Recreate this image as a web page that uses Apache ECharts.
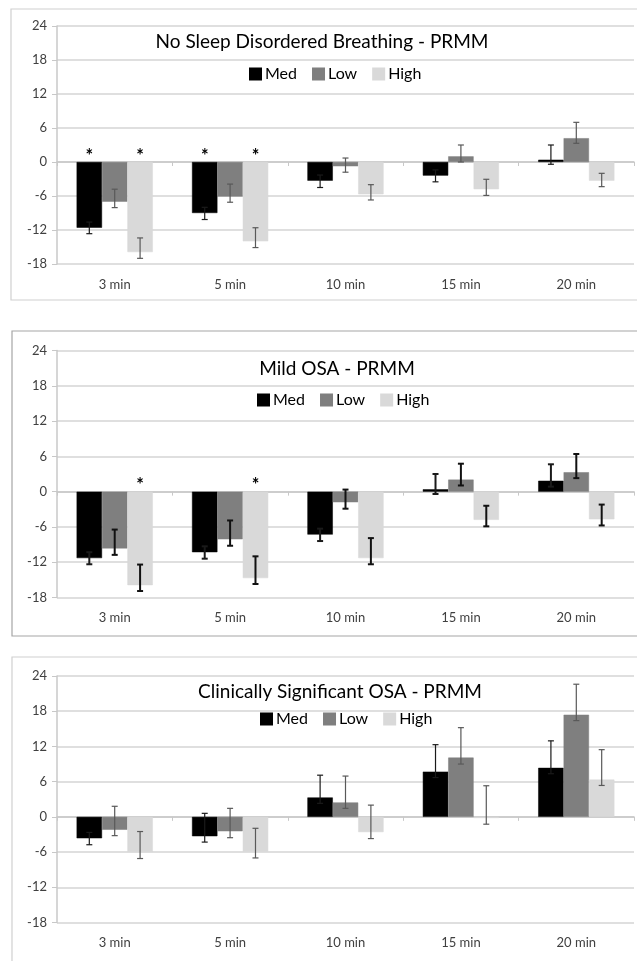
<!DOCTYPE html>
<html>
<head>
<meta charset="utf-8">
<script src="https://cdn.jsdelivr.net/npm/echarts@6/dist/echarts.min.js"></script>
<style>
  html, body { margin: 0; padding: 0; background: #fff; }
  #chart { width: 637px; height: 961px; }
</style>
</head>
<body>
<div id="chart"></div>
<script>
// 分类
const categories = ['3 min', '5 min', '10 min', '15 min', '20 min']
const seriesNames = ['Med', 'Low', 'High']
const yTicks = [-18, -12, -6, 0, 6, 12, 18, 24]

// No Sleep Disordered Breathing
const nsdbMed = [-11.6, -9.0, -3.3, -2.4, 0.4]
const nsdbLow = [-7.0, -6.1, -0.75, 1.0, 4.2]
const nsdbHigh = [-15.9, -14.0, -5.7, -4.8, -3.3]
const nsdbPlus = [[1.0, 1.0, 1.0, 1.0, 2.6], [2.2, 2.2, 1.45, 2.0, 2.8], [2.5, 2.4, 1.7, 1.75, 1.3]]
const nsdbMinus = [[1.05, 1.15, 1.2, 1.1, 0.8], [1.05, 1.0, 1.05, 1.0, 0.9], [1.1, 1.1, 1.0, 1.1, 1.05]]
const nsdbStars = [[1, 1, 0, 0, 0], [0, 0, 0, 0, 0], [1, 1, 0, 0, 0]]

// Mild OSA
const mildMed = [-11.3, -10.3, -7.3, 0.4, 1.85]
const mildLow = [-9.65, -8.1, -1.8, 2.05, 3.3]
const mildHigh = [-15.9, -14.7, -11.3, -4.8, -4.7]
const mildPlus = [[1.0, 1.0, 1.0, 2.6, 2.8], [3.2, 3.2, 2.15, 2.7, 3.1], [3.5, 3.7, 3.4, 2.4, 2.5]]
const mildMinus = [[1.05, 1.1, 1.1, 0.8, 1.0], [1.1, 1.1, 1.1, 1.0, 1.0], [1.0, 1.0, 1.05, 1.1, 1.05]]
const mildStars = [[0, 0, 0, 0, 0], [0, 0, 0, 0, 0], [1, 1, 0, 0, 0]]

// Clinically Significant OSA
const csMed = [-3.65, -3.3, 3.3, 7.7, 8.35]
const csLow = [-2.2, -2.45, 2.45, 10.1, 17.4]
const csHigh = [-6.0, -5.95, -2.6, -0.2, 6.35]
const csPlus = [[1.0, 3.9, 3.8, 4.6, 4.6], [4.0, 3.9, 4.5, 5.1, 5.2], [3.5, 4.0, 4.6, 5.5, 5.1]]
const csMinus = [[1.1, 1.0, 1.0, 1.0, 1.0], [1.0, 1.1, 1.0, 1.1, 1.0], [1.1, 1.05, 1.1, 1.05, 1.0]]
const csStars = [[0, 0, 0, 0, 0], [0, 0, 0, 0, 0], [0, 0, 0, 0, 0]]

const barColors = ['#000000', '#7f7f7f', '#d9d9d9']
const fontFamily = 'Lato, "Open Sans", sans-serif'
const gapRatio = 0.34

// 三个面板的布局
const panels = [
  {
    title: 'No Sleep Disordered Breathing - PRMM',
    values: [nsdbMed, nsdbLow, nsdbHigh], plus: nsdbPlus, minus: nsdbMinus, stars: nsdbStars,
    top: 26, height: 238, titleX: 322, titleY: 42, legendX: 249, legendY: 66,
    box: [11, 9, 300], boxColor: '#d0d0d0', errColor: '#595959', errWidth: 1.2
  },
  {
    title: 'Mild OSA - PRMM',
    values: [mildMed, mildLow, mildHigh], plus: mildPlus, minus: mildMinus, stars: mildStars,
    top: 350.5, height: 247, titleX: 337, titleY: 369, legendX: 257, legendY: 392,
    box: [12, 331, 636], boxColor: '#a6a6a6', errColor: '#111111', errWidth: 2
  },
  {
    title: 'Clinically Significant OSA - PRMM',
    values: [csMed, csLow, csHigh], plus: csPlus, minus: csMinus, stars: csStars,
    top: 676, height: 246.5, titleX: 340, titleY: 692, legendX: 260, legendY: 711,
    box: [12, 657, 990], boxColor: '#d0d0d0', errColor: '#595959', errWidth: 1.2
  }
]

// 误差线数据
const buildErrData = (p) => {
  const data = []
  p.values.forEach((arr, k) => {
    arr.forEach((v, i) => {
      data.push([i, k, v, p.plus[k][i], p.minus[k][i], p.stars[k][i]])
    })
  })
  return data
}

const grid = []
const xAxis = []
const yAxis = []
const legend = []
const series = []
const graphic = []

panels.forEach((p, idx) => {
  grid.push({ left: 57, right: 3, top: p.top, height: p.height })

  // 底部分类标签
  xAxis.push({
    type: 'category', gridIndex: idx, data: categories, position: 'bottom',
    axisLine: { show: false, onZero: false },
    axisTick: { show: false },
    axisLabel: { color: '#404040', fontSize: 13, fontFamily, margin: 14 },
    splitLine: { show: false }
  })
  // 零线上的刻度
  xAxis.push({
    type: 'category', gridIndex: idx, data: categories, position: 'top',
    axisLine: { show: true, onZero: true, lineStyle: { color: '#c8c8c8', width: 1.5 } },
    axisTick: { show: true, inside: true, length: 4, lineStyle: { color: '#c8c8c8' } },
    axisLabel: { show: false },
    splitLine: { show: false }
  })

  yAxis.push({
    type: 'value', gridIndex: idx, min: yTicks[0], max: yTicks[yTicks.length - 1], interval: 6,
    axisLine: { show: true, lineStyle: { color: '#c8c8c8', width: 1.5 } },
    axisTick: { show: true, length: 5, lineStyle: { color: '#c8c8c8' } },
    axisLabel: { color: '#404040', fontSize: 13, fontFamily, margin: 10 },
    splitLine: { show: true, lineStyle: { color: '#d4d4d4', width: 1.5 } }
  })

  legend.push({
    data: seriesNames, left: p.legendX, top: p.legendY, padding: 0,
    itemWidth: 11, itemHeight: 11, itemGap: 15, icon: 'rect',
    textStyle: { fontSize: 16, fontFamily, color: '#000', padding: [0, 0, 0, -1] }
  })

  seriesNames.forEach((name, k) => {
    series.push({
      name, type: 'bar', xAxisIndex: idx * 2, yAxisIndex: idx,
      data: p.values[k], barGap: '0%', barCategoryGap: (gapRatio * 100) + '%',
      itemStyle: { color: barColors[k], borderColor: k === 0 ? '#000' : barColors[k], borderWidth: 0.5 },
      z: 2
    })
  })

  series.push({
    type: 'custom', xAxisIndex: idx * 2, yAxisIndex: idx,
    data: buildErrData(p), encode: { x: 0, y: 2 }, z: 5, silent: true,
    renderItem: (params, api) => {
      const i = api.value(0)
      const k = api.value(1)
      const v = api.value(2)
      const band = api.size([1, 0])[0]
      const barW = band * (1 - gapRatio) / 3
      const base = api.coord([i, 0])
      const cx = base[0] + (k - 1) * barW
      const yTop = api.coord([i, v + api.value(3)])[1]
      const yBot = api.coord([i, v - api.value(4)])[1]
      // 黑色柱子上的误差线看不出来
      const style = { stroke: k === 0 ? '#1a1a1a' : p.errColor, lineWidth: p.errWidth }
      const children = [
        { type: 'line', shape: { x1: cx, y1: yTop, x2: cx, y2: yBot }, style },
        { type: 'line', shape: { x1: cx - 3, y1: yTop, x2: cx + 3, y2: yTop }, style },
        { type: 'line', shape: { x1: cx - 3, y1: yBot, x2: cx + 3, y2: yBot }, style }
      ]
      if (api.value(5)) {
        children.push({
          type: 'text', x: cx, y: base[1] - 6,
          style: { text: '*', fill: '#000', font: 'bold 18px ' + fontFamily, align: 'center', verticalAlign: 'middle', textAlign: 'center', textVerticalAlign: 'middle' }
        })
      }
      return { type: 'group', children }
    }
  })

  // 面板边框和标题
  graphic.push({
    type: 'rect', shape: { x: p.box[0], y: p.box[1], width: 640, height: p.box[2] - p.box[1] },
    style: { fill: 'none', stroke: p.boxColor, lineWidth: 1.2 }, z: -1
  })
  graphic.push({
    type: 'text', x: p.titleX, y: p.titleY,
    style: { text: p.title, fill: '#000', font: '19px ' + fontFamily, align: 'center', verticalAlign: 'middle', textAlign: 'center', textVerticalAlign: 'middle' }
  })
})

const chartInstance = echarts.init(document.getElementById('chart'))
chartInstance.setOption({
  animation: false,
  backgroundColor: '#fff',
  grid, xAxis, yAxis, legend, series, graphic
})
</script>
</body>
</html>
